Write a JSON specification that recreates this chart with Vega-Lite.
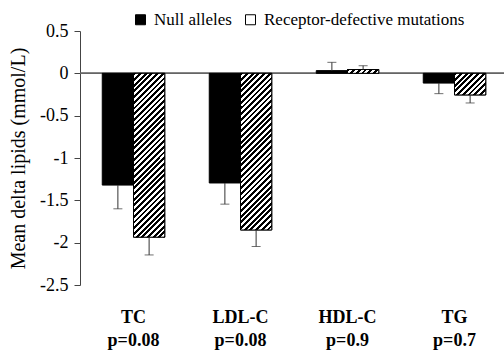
{
  "$schema": "https://vega.github.io/schema/vega-lite/v6.json",
  "width": 424,
  "height": 254,
  "autosize": {"type": "none"},
  "padding": {"left": 80, "top": 31, "right": 0, "bottom": 68},
  "config": {
    "font": "Liberation Serif",
    "view": {"stroke": null},
    "axis": {"labelFont": "Liberation Serif", "titleFont": "Liberation Serif"},
    "legend": {"labelFont": "Liberation Serif", "titleFont": "Liberation Serif"}
  },
  "data": {
    "values": [
      {"category": "TC|p=0.08", "type": "Null alleles", "value": -1.32, "err": -1.6},
      {"category": "TC|p=0.08", "type": "Receptor-defective mutations", "value": -1.935, "err": -2.145},
      {"category": "LDL-C|p=0.08", "type": "Null alleles", "value": -1.295, "err": -1.545},
      {"category": "LDL-C|p=0.08", "type": "Receptor-defective mutations", "value": -1.85, "err": -2.045},
      {"category": "HDL-C|p=0.9", "type": "Null alleles", "value": 0.032, "err": 0.13},
      {"category": "HDL-C|p=0.9", "type": "Receptor-defective mutations", "value": 0.045, "err": 0.09},
      {"category": "TG|p=0.7", "type": "Null alleles", "value": -0.115, "err": -0.24},
      {"category": "TG|p=0.7", "type": "Receptor-defective mutations", "value": -0.255, "err": -0.35}
    ]
  },
  "layer": [
    {
      "mark": {"type": "rule", "color": "#666", "strokeWidth": 1},
      "encoding": {"y": {"datum": 0, "type": "quantitative", "scale": {"domain": [-2.5, 0.5], "nice": false, "zero": false}}}
    },
    {
      "encoding": {
        "x": {
          "field": "category", "type": "nominal",
          "scale": {"domain": ["TC|p=0.08", "LDL-C|p=0.08", "HDL-C|p=0.9", "TG|p=0.7"], "range": [0, 428], "paddingInner": 0.416, "paddingOuter": 0.208},
          "axis": {"title": null, "domain": false, "ticks": false, "tickSize": 0, "labelExpr": "split(datum.value, '|')", "labelFont": "Liberation Serif", "labelFontSize": 18, "labelFontWeight": "bold", "labelColor": "#000", "labelPadding": 23, "labelLineHeight": 23, "labelAngle": 0, "labelOverlap": false, "labelLimit": 0}
        },
        "xOffset": {"field": "type", "type": "nominal", "scale": {"domain": ["Null alleles", "Receptor-defective mutations"], "paddingInner": 0, "paddingOuter": 0}},
        "y": {
          "field": "value", "type": "quantitative",
          "scale": {"domain": [-2.5, 0.5], "nice": false, "zero": false},
          "axis": {"values": [-2.5, -2, -1.5, -1, -0.5, 0, 0.5], "labelExpr": "datum.value + ''", "grid": false, "domainColor": "#444", "tickColor": "#444", "tickSize": 6, "labelFont": "Liberation Serif", "labelFontSize": 18, "labelColor": "#000", "labelPadding": 6, "title": "Mean delta lipids (mmol/L)", "titleFont": "Liberation Serif", "titleFontSize": 20, "titleFontWeight": "normal", "titleColor": "#000", "titlePadding": 11}
        }
      },
      "layer": [
        {
          "mark": {"type": "bar", "stroke": "#000", "strokeWidth": 1},
          "encoding": {
            "fill": {
              "field": "type", "type": "nominal",
              "scale": {"domain": ["Null alleles", "Receptor-defective mutations"], "range": ["#000", "#fff"]},
              "legend": {
                "orient": "none", "legendX": 52, "legendY": -20, "direction": "horizontal", "title": null,
                "symbolType": "square", "symbolSize": 100, "symbolStrokeColor": "#000", "symbolStrokeWidth": 1,
                "labelFont": "Liberation Serif", "labelFontSize": 17, "labelColor": "#000", "labelOffset": 5, "labelLimit": 400, "columnPadding": 10, "padding": 0,
                "encode": {"symbols": {"update": {
                  "stroke": {"value": "#000"},
                  "strokeWidth": {"value": 1}
                }}}
              }
            }
          }
        },
        {
          "transform": [{"filter": "datum.type === 'Receptor-defective mutations' && datum.category === 'TC|p=0.08'"}],
          "mark": {"type": "bar", "stroke": "#000", "strokeWidth": 1, "fill": {"gradient": "linear", "x1": 0, "y1": 0, "x2": 0.2562, "y2": 1.3431, "stops": [
            {"offset":0,"color":"#000"},{"offset":0.0125,"color":"#000"},{"offset":0.0125,"color":"#fff"},{"offset":0.025,"color":"#fff"},
            {"offset":0.025,"color":"#000"},{"offset":0.0375,"color":"#000"},{"offset":0.0375,"color":"#fff"},{"offset":0.05,"color":"#fff"},
            {"offset":0.05,"color":"#000"},{"offset":0.0625,"color":"#000"},{"offset":0.0625,"color":"#fff"},{"offset":0.075,"color":"#fff"},
            {"offset":0.075,"color":"#000"},{"offset":0.0875,"color":"#000"},{"offset":0.0875,"color":"#fff"},{"offset":0.1,"color":"#fff"},
            {"offset":0.1,"color":"#000"},{"offset":0.1125,"color":"#000"},{"offset":0.1125,"color":"#fff"},{"offset":0.125,"color":"#fff"},
            {"offset":0.125,"color":"#000"},{"offset":0.1375,"color":"#000"},{"offset":0.1375,"color":"#fff"},{"offset":0.15,"color":"#fff"},
            {"offset":0.15,"color":"#000"},{"offset":0.1625,"color":"#000"},{"offset":0.1625,"color":"#fff"},{"offset":0.175,"color":"#fff"},
            {"offset":0.175,"color":"#000"},{"offset":0.1875,"color":"#000"},{"offset":0.1875,"color":"#fff"},{"offset":0.2,"color":"#fff"},
            {"offset":0.2,"color":"#000"},{"offset":0.2125,"color":"#000"},{"offset":0.2125,"color":"#fff"},{"offset":0.225,"color":"#fff"},
            {"offset":0.225,"color":"#000"},{"offset":0.2375,"color":"#000"},{"offset":0.2375,"color":"#fff"},{"offset":0.25,"color":"#fff"},
            {"offset":0.25,"color":"#000"},{"offset":0.2625,"color":"#000"},{"offset":0.2625,"color":"#fff"},{"offset":0.275,"color":"#fff"},
            {"offset":0.275,"color":"#000"},{"offset":0.2875,"color":"#000"},{"offset":0.2875,"color":"#fff"},{"offset":0.3,"color":"#fff"},
            {"offset":0.3,"color":"#000"},{"offset":0.3125,"color":"#000"},{"offset":0.3125,"color":"#fff"},{"offset":0.325,"color":"#fff"},
            {"offset":0.325,"color":"#000"},{"offset":0.3375,"color":"#000"},{"offset":0.3375,"color":"#fff"},{"offset":0.35,"color":"#fff"},
            {"offset":0.35,"color":"#000"},{"offset":0.3625,"color":"#000"},{"offset":0.3625,"color":"#fff"},{"offset":0.375,"color":"#fff"},
            {"offset":0.375,"color":"#000"},{"offset":0.3875,"color":"#000"},{"offset":0.3875,"color":"#fff"},{"offset":0.4,"color":"#fff"},
            {"offset":0.4,"color":"#000"},{"offset":0.4125,"color":"#000"},{"offset":0.4125,"color":"#fff"},{"offset":0.425,"color":"#fff"},
            {"offset":0.425,"color":"#000"},{"offset":0.4375,"color":"#000"},{"offset":0.4375,"color":"#fff"},{"offset":0.45,"color":"#fff"},
            {"offset":0.45,"color":"#000"},{"offset":0.4625,"color":"#000"},{"offset":0.4625,"color":"#fff"},{"offset":0.475,"color":"#fff"},
            {"offset":0.475,"color":"#000"},{"offset":0.4875,"color":"#000"},{"offset":0.4875,"color":"#fff"},{"offset":0.5,"color":"#fff"},
            {"offset":0.5,"color":"#000"},{"offset":0.5125,"color":"#000"},{"offset":0.5125,"color":"#fff"},{"offset":0.525,"color":"#fff"},
            {"offset":0.525,"color":"#000"},{"offset":0.5375,"color":"#000"},{"offset":0.5375,"color":"#fff"},{"offset":0.55,"color":"#fff"},
            {"offset":0.55,"color":"#000"},{"offset":0.5625,"color":"#000"},{"offset":0.5625,"color":"#fff"},{"offset":0.575,"color":"#fff"},
            {"offset":0.575,"color":"#000"},{"offset":0.5875,"color":"#000"},{"offset":0.5875,"color":"#fff"},{"offset":0.6,"color":"#fff"},
            {"offset":0.6,"color":"#000"},{"offset":0.6125,"color":"#000"},{"offset":0.6125,"color":"#fff"},{"offset":0.625,"color":"#fff"},
            {"offset":0.625,"color":"#000"},{"offset":0.6375,"color":"#000"},{"offset":0.6375,"color":"#fff"},{"offset":0.65,"color":"#fff"},
            {"offset":0.65,"color":"#000"},{"offset":0.6625,"color":"#000"},{"offset":0.6625,"color":"#fff"},{"offset":0.675,"color":"#fff"},
            {"offset":0.675,"color":"#000"},{"offset":0.6875,"color":"#000"},{"offset":0.6875,"color":"#fff"},{"offset":0.7,"color":"#fff"},
            {"offset":0.7,"color":"#000"},{"offset":0.7125,"color":"#000"},{"offset":0.7125,"color":"#fff"},{"offset":0.725,"color":"#fff"},
            {"offset":0.725,"color":"#000"},{"offset":0.7375,"color":"#000"},{"offset":0.7375,"color":"#fff"},{"offset":0.75,"color":"#fff"},
            {"offset":0.75,"color":"#000"},{"offset":0.7625,"color":"#000"},{"offset":0.7625,"color":"#fff"},{"offset":0.775,"color":"#fff"},
            {"offset":0.775,"color":"#000"},{"offset":0.7875,"color":"#000"},{"offset":0.7875,"color":"#fff"},{"offset":0.8,"color":"#fff"},
            {"offset":0.8,"color":"#000"},{"offset":0.8125,"color":"#000"},{"offset":0.8125,"color":"#fff"},{"offset":0.825,"color":"#fff"},
            {"offset":0.825,"color":"#000"},{"offset":0.8375,"color":"#000"},{"offset":0.8375,"color":"#fff"},{"offset":0.85,"color":"#fff"},
            {"offset":0.85,"color":"#000"},{"offset":0.8625,"color":"#000"},{"offset":0.8625,"color":"#fff"},{"offset":0.875,"color":"#fff"}
          ]}}
        },
        {
          "transform": [{"filter": "datum.type === 'Receptor-defective mutations' && datum.category === 'LDL-C|p=0.08'"}],
          "mark": {"type": "bar", "stroke": "#000", "strokeWidth": 1, "fill": {"gradient": "linear", "x1": 0, "y1": 0, "x2": 0.2787, "y2": 1.3986, "stops": [
            {"offset":0,"color":"#000"},{"offset":0.0125,"color":"#000"},{"offset":0.0125,"color":"#fff"},{"offset":0.025,"color":"#fff"},
            {"offset":0.025,"color":"#000"},{"offset":0.0375,"color":"#000"},{"offset":0.0375,"color":"#fff"},{"offset":0.05,"color":"#fff"},
            {"offset":0.05,"color":"#000"},{"offset":0.0625,"color":"#000"},{"offset":0.0625,"color":"#fff"},{"offset":0.075,"color":"#fff"},
            {"offset":0.075,"color":"#000"},{"offset":0.0875,"color":"#000"},{"offset":0.0875,"color":"#fff"},{"offset":0.1,"color":"#fff"},
            {"offset":0.1,"color":"#000"},{"offset":0.1125,"color":"#000"},{"offset":0.1125,"color":"#fff"},{"offset":0.125,"color":"#fff"},
            {"offset":0.125,"color":"#000"},{"offset":0.1375,"color":"#000"},{"offset":0.1375,"color":"#fff"},{"offset":0.15,"color":"#fff"},
            {"offset":0.15,"color":"#000"},{"offset":0.1625,"color":"#000"},{"offset":0.1625,"color":"#fff"},{"offset":0.175,"color":"#fff"},
            {"offset":0.175,"color":"#000"},{"offset":0.1875,"color":"#000"},{"offset":0.1875,"color":"#fff"},{"offset":0.2,"color":"#fff"},
            {"offset":0.2,"color":"#000"},{"offset":0.2125,"color":"#000"},{"offset":0.2125,"color":"#fff"},{"offset":0.225,"color":"#fff"},
            {"offset":0.225,"color":"#000"},{"offset":0.2375,"color":"#000"},{"offset":0.2375,"color":"#fff"},{"offset":0.25,"color":"#fff"},
            {"offset":0.25,"color":"#000"},{"offset":0.2625,"color":"#000"},{"offset":0.2625,"color":"#fff"},{"offset":0.275,"color":"#fff"},
            {"offset":0.275,"color":"#000"},{"offset":0.2875,"color":"#000"},{"offset":0.2875,"color":"#fff"},{"offset":0.3,"color":"#fff"},
            {"offset":0.3,"color":"#000"},{"offset":0.3125,"color":"#000"},{"offset":0.3125,"color":"#fff"},{"offset":0.325,"color":"#fff"},
            {"offset":0.325,"color":"#000"},{"offset":0.3375,"color":"#000"},{"offset":0.3375,"color":"#fff"},{"offset":0.35,"color":"#fff"},
            {"offset":0.35,"color":"#000"},{"offset":0.3625,"color":"#000"},{"offset":0.3625,"color":"#fff"},{"offset":0.375,"color":"#fff"},
            {"offset":0.375,"color":"#000"},{"offset":0.3875,"color":"#000"},{"offset":0.3875,"color":"#fff"},{"offset":0.4,"color":"#fff"},
            {"offset":0.4,"color":"#000"},{"offset":0.4125,"color":"#000"},{"offset":0.4125,"color":"#fff"},{"offset":0.425,"color":"#fff"},
            {"offset":0.425,"color":"#000"},{"offset":0.4375,"color":"#000"},{"offset":0.4375,"color":"#fff"},{"offset":0.45,"color":"#fff"},
            {"offset":0.45,"color":"#000"},{"offset":0.4625,"color":"#000"},{"offset":0.4625,"color":"#fff"},{"offset":0.475,"color":"#fff"},
            {"offset":0.475,"color":"#000"},{"offset":0.4875,"color":"#000"},{"offset":0.4875,"color":"#fff"},{"offset":0.5,"color":"#fff"},
            {"offset":0.5,"color":"#000"},{"offset":0.5125,"color":"#000"},{"offset":0.5125,"color":"#fff"},{"offset":0.525,"color":"#fff"},
            {"offset":0.525,"color":"#000"},{"offset":0.5375,"color":"#000"},{"offset":0.5375,"color":"#fff"},{"offset":0.55,"color":"#fff"},
            {"offset":0.55,"color":"#000"},{"offset":0.5625,"color":"#000"},{"offset":0.5625,"color":"#fff"},{"offset":0.575,"color":"#fff"},
            {"offset":0.575,"color":"#000"},{"offset":0.5875,"color":"#000"},{"offset":0.5875,"color":"#fff"},{"offset":0.6,"color":"#fff"},
            {"offset":0.6,"color":"#000"},{"offset":0.6125,"color":"#000"},{"offset":0.6125,"color":"#fff"},{"offset":0.625,"color":"#fff"},
            {"offset":0.625,"color":"#000"},{"offset":0.6375,"color":"#000"},{"offset":0.6375,"color":"#fff"},{"offset":0.65,"color":"#fff"},
            {"offset":0.65,"color":"#000"},{"offset":0.6625,"color":"#000"},{"offset":0.6625,"color":"#fff"},{"offset":0.675,"color":"#fff"},
            {"offset":0.675,"color":"#000"},{"offset":0.6875,"color":"#000"},{"offset":0.6875,"color":"#fff"},{"offset":0.7,"color":"#fff"},
            {"offset":0.7,"color":"#000"},{"offset":0.7125,"color":"#000"},{"offset":0.7125,"color":"#fff"},{"offset":0.725,"color":"#fff"},
            {"offset":0.725,"color":"#000"},{"offset":0.7375,"color":"#000"},{"offset":0.7375,"color":"#fff"},{"offset":0.75,"color":"#fff"},
            {"offset":0.75,"color":"#000"},{"offset":0.7625,"color":"#000"},{"offset":0.7625,"color":"#fff"},{"offset":0.775,"color":"#fff"},
            {"offset":0.775,"color":"#000"},{"offset":0.7875,"color":"#000"},{"offset":0.7875,"color":"#fff"},{"offset":0.8,"color":"#fff"},
            {"offset":0.8,"color":"#000"},{"offset":0.8125,"color":"#000"},{"offset":0.8125,"color":"#fff"},{"offset":0.825,"color":"#fff"},
            {"offset":0.825,"color":"#000"},{"offset":0.8375,"color":"#000"},{"offset":0.8375,"color":"#fff"},{"offset":0.85,"color":"#fff"}
          ]}}
        },
        {
          "transform": [{"filter": "datum.type === 'Receptor-defective mutations' && datum.category === 'HDL-C|p=0.9'"}],
          "mark": {"type": "bar", "stroke": "#000", "strokeWidth": 1, "fill": {"gradient": "linear", "x1": 0, "y1": 0, "x2": 7.1891, "y2": 0.8765, "stops": [
            {"offset":0,"color":"#000"},{"offset":0.0125,"color":"#000"},{"offset":0.0125,"color":"#fff"},{"offset":0.025,"color":"#fff"},
            {"offset":0.025,"color":"#000"},{"offset":0.0375,"color":"#000"},{"offset":0.0375,"color":"#fff"},{"offset":0.05,"color":"#fff"},
            {"offset":0.05,"color":"#000"},{"offset":0.0625,"color":"#000"},{"offset":0.0625,"color":"#fff"},{"offset":0.075,"color":"#fff"},
            {"offset":0.075,"color":"#000"},{"offset":0.0875,"color":"#000"},{"offset":0.0875,"color":"#fff"},{"offset":0.1,"color":"#fff"},
            {"offset":0.1,"color":"#000"},{"offset":0.1125,"color":"#000"},{"offset":0.1125,"color":"#fff"},{"offset":0.125,"color":"#fff"},
            {"offset":0.125,"color":"#000"},{"offset":0.1375,"color":"#000"},{"offset":0.1375,"color":"#fff"},{"offset":0.15,"color":"#fff"},
            {"offset":0.15,"color":"#000"},{"offset":0.1625,"color":"#000"},{"offset":0.1625,"color":"#fff"},{"offset":0.175,"color":"#fff"}
          ]}}
        },
        {
          "transform": [{"filter": "datum.type === 'Receptor-defective mutations' && datum.category === 'TG|p=0.7'"}],
          "mark": {"type": "bar", "stroke": "#000", "strokeWidth": 1, "fill": {"gradient": "linear", "x1": 0, "y1": 0, "x2": 4.9372, "y2": 3.4126, "stops": [
            {"offset":0,"color":"#000"},{"offset":0.0125,"color":"#000"},{"offset":0.0125,"color":"#fff"},{"offset":0.025,"color":"#fff"},
            {"offset":0.025,"color":"#000"},{"offset":0.0375,"color":"#000"},{"offset":0.0375,"color":"#fff"},{"offset":0.05,"color":"#fff"},
            {"offset":0.05,"color":"#000"},{"offset":0.0625,"color":"#000"},{"offset":0.0625,"color":"#fff"},{"offset":0.075,"color":"#fff"},
            {"offset":0.075,"color":"#000"},{"offset":0.0875,"color":"#000"},{"offset":0.0875,"color":"#fff"},{"offset":0.1,"color":"#fff"},
            {"offset":0.1,"color":"#000"},{"offset":0.1125,"color":"#000"},{"offset":0.1125,"color":"#fff"},{"offset":0.125,"color":"#fff"},
            {"offset":0.125,"color":"#000"},{"offset":0.1375,"color":"#000"},{"offset":0.1375,"color":"#fff"},{"offset":0.15,"color":"#fff"},
            {"offset":0.15,"color":"#000"},{"offset":0.1625,"color":"#000"},{"offset":0.1625,"color":"#fff"},{"offset":0.175,"color":"#fff"},
            {"offset":0.175,"color":"#000"},{"offset":0.1875,"color":"#000"},{"offset":0.1875,"color":"#fff"},{"offset":0.2,"color":"#fff"},
            {"offset":0.2,"color":"#000"},{"offset":0.2125,"color":"#000"},{"offset":0.2125,"color":"#fff"},{"offset":0.225,"color":"#fff"},
            {"offset":0.225,"color":"#000"},{"offset":0.2375,"color":"#000"},{"offset":0.2375,"color":"#fff"},{"offset":0.25,"color":"#fff"}
          ]}}
        },
        {
          "mark": {"type": "rule", "color": "#333", "strokeWidth": 1},
          "encoding": {"y2": {"field": "err"}}
        },
        {
          "mark": {"type": "tick", "color": "#333", "thickness": 1, "size": 9, "orient": "horizontal"},
          "encoding": {"y": {"field": "err", "type": "quantitative"}}
        }
      ]
    }
  ]
}
